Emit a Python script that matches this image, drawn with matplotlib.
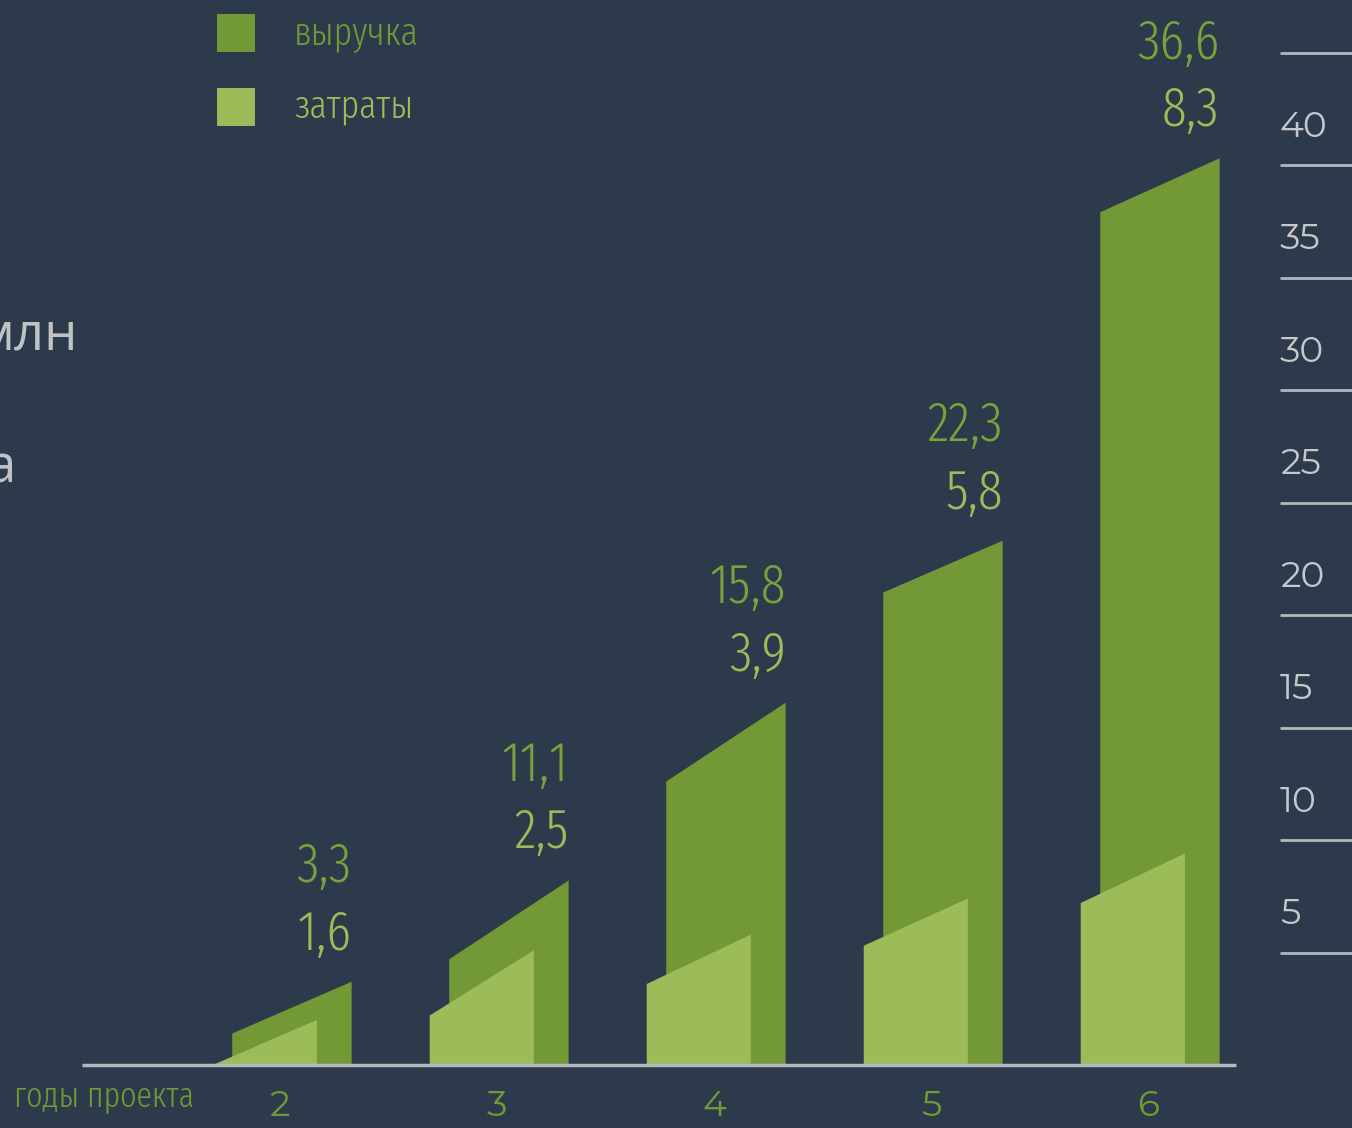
import matplotlib.pyplot as plt
from matplotlib.patches import Polygon, Rectangle

# data
years = [2, 3, 4, 5, 6]
revenue_labels = ['3,3', '11,1', '15,8', '22,3', '36,6']
cost_labels = ['1,6', '2,5', '3,9', '5,8', '8,3']
# drawn bar tops (slanted: left / right edge), axis units
revenue_top_left = [1.4, 4.7, 12.6, 21.0, 37.9]
revenue_top_right = [3.7, 8.2, 16.1, 23.3, 40.3]
cost_top_left = [0.0, 2.2, 3.6, 5.3, 7.2]
cost_top_right = [2.0, 5.1, 5.8, 7.4, 9.4]
grid_values = [5, 10, 15, 20, 25, 30, 35, 40, 45]
grid_labels = ['5', '10', '15', '20', '25', '30', '35', '40', '']

bg = '#2c3a4b'
c_rev = '#739937'
c_cost = '#9cbb59'
c_axis = '#c6c8ca'
narrow = ['Fira Sans Extra Condensed', 'DejaVu Sans']
digits = ['Montserrat Alternates', 'Open Sans', 'DejaVu Sans']
wide = ['Open Sans', 'DejaVu Sans']

fig = plt.figure(figsize=(13.52, 11.28), dpi=100)
fig.patch.set_facecolor(bg)
ax = fig.add_axes([0, 0, 1, 1])
ax.set_facecolor(bg)
ax.set_xlim(2 - 280 / 217, 2 + 1072 / 217)
ax.set_ylim(-63 / 22.5, 1065 / 22.5)
ax.axis('off')

for i, yr in enumerate(years):
    l, r = yr - 0.22, yr + 0.33
    ax.add_patch(Polygon([(l, 0), (l, revenue_top_left[i]), (r, revenue_top_right[i]), (r, 0)],
                         closed=True, facecolor=c_rev, edgecolor='none', zorder=2))
    l, r = yr - 0.31, yr + 0.17
    ax.add_patch(Polygon([(l, 0), (l, cost_top_left[i]), (r, cost_top_right[i]), (r, 0)],
                         closed=True, facecolor=c_cost, edgecolor='none', zorder=3))
    # value labels above the bars
    xr = yr + 0.33
    ax.text(xr, revenue_top_right[i] + 5.1, revenue_labels[i], ha='right', va='center',
            fontsize=40, color='#7aa13b', family=narrow, weight=300)
    ax.text(xr, revenue_top_right[i] + 2.1, cost_labels[i], ha='right', va='center',
            fontsize=40, color=c_cost, family=narrow, weight=300)
    ax.text(yr, -1.8, str(yr), ha='center', va='center', fontsize=26,
            color=c_rev, family=digits)

# baseline
ax.plot([1.088, 6.406], [0, 0], color='#b4b8bc', lw=2.5, zorder=4, solid_capstyle='butt')

# right side scale
for v, lab in zip(grid_values, grid_labels):
    ax.plot([6.608, 6.95], [v, v], color='#b4b8bc', lw=2, solid_capstyle='butt')
    if lab:
        ax.text(6.608, v + 1.7, lab, ha='left', va='center', fontsize=26,
                color=c_axis, family=digits)

ax.text(0.774, -1.4, 'годы проекта', ha='left', va='center', fontsize=25,
        color=c_rev, family=narrow, weight=300)

# cut-off title text at the left edge
ax.text(1.069, 32.4, 'млн', ha='right', va='center', fontsize=38, color='#c0c2c4',
        family=wide)
ax.text(0.785, 26.5, 'а', ha='right', va='center', fontsize=38, color='#c0c2c4',
        family=wide)

# legend
fig.patches.append(Rectangle((217 / 1352, 1 - 52 / 1128), 38 / 1352, 38 / 1128,
                             transform=fig.transFigure, facecolor=c_rev, edgecolor='none'))
fig.patches.append(Rectangle((217 / 1352, 1 - 126 / 1128), 38 / 1352, 38 / 1128,
                             transform=fig.transFigure, facecolor=c_cost, edgecolor='none'))
fig.text(294 / 1352, 1 - 34 / 1128, 'выручка', ha='left', va='center', fontsize=28,
         color=c_rev, family=narrow, weight=300)
fig.text(294 / 1352, 1 - 106 / 1128, 'затраты', ha='left', va='center', fontsize=28,
         color=c_cost, family=narrow, weight=300)

fig.savefig('out.png', dpi=100, facecolor=bg)
